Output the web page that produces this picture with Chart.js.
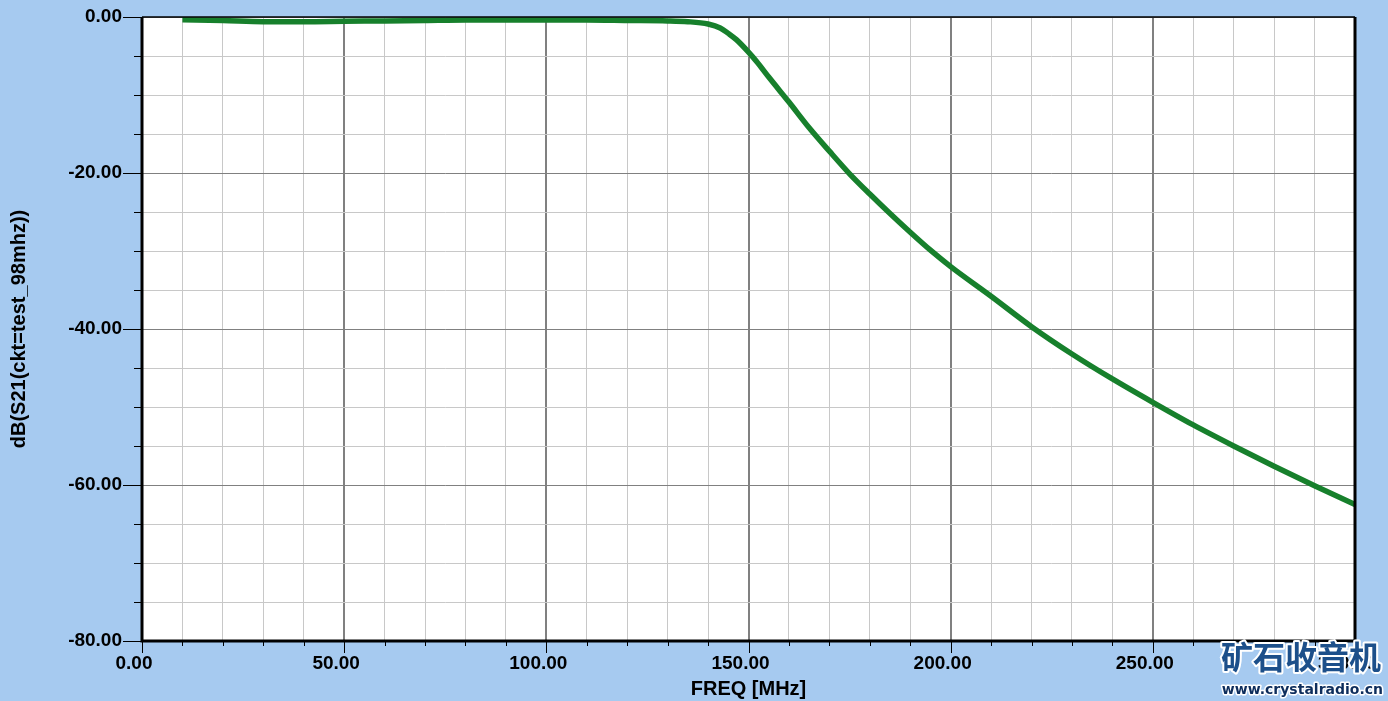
<!DOCTYPE html>
<html>
<head>
<meta charset="utf-8">
<script src="https://cdn.jsdelivr.net/npm/chart.js@4.4.0/dist/chart.umd.min.js"></script>
<style>
  html, body { margin: 0; padding: 0; background: #a6caf0; }
  #wrap { width: 1388px; height: 701px; position: relative; }
</style>
</head>
<body>
<div id="wrap"><canvas id="myChart" width="1388" height="701"></canvas></div>
<script>
// frequency in MHz, S21 in dB
const freq = [10, 20, 30, 40, 50, 60, 70, 80, 90, 100, 110, 120, 130, 135, 140, 143, 145, 147, 150, 152, 155, 160, 165, 170, 175, 180, 185, 190, 195, 200, 210, 220, 230, 240, 250, 260, 270, 280, 290, 300];
const s21 = [-0.35, -0.45, -0.6, -0.6, -0.55, -0.5, -0.45, -0.4, -0.4, -0.4, -0.4, -0.45, -0.5, -0.6, -0.9, -1.4, -2.1, -2.9, -4.5, -5.7, -7.7, -10.9, -14.2, -17.2, -20.1, -22.7, -25.2, -27.6, -29.9, -32.0, -35.8, -39.7, -43.2, -46.4, -49.4, -52.3, -55.0, -57.6, -60.1, -62.5];

const xMajor = 50, xMinor = 10;
const yMajor = 20, yMinor = 5;
const xTitle = 'FREQ [MHz]';
const yTitle = 'dB(S21(ckt=test_98mhz))';

const tickFont = { family: 'Liberation Sans, Arial', size: 19, weight: 'bold' };
const titleFont = { family: 'Liberation Sans, Arial', size: 20, weight: 'bold' };

function isMajor(v, step) {
  return Math.abs(v / step - Math.round(v / step)) < 1e-6;
}

// frame, tick marks and watermark
const framePlugin = {
  id: 'frame',
  beforeDraw(chart) {
    const c = chart.ctx;
    c.save();
    c.fillStyle = '#a6caf0';
    c.fillRect(0, 0, chart.width, chart.height);
    const a = chart.chartArea;
    c.fillStyle = '#ffffff';
    c.fillRect(a.left, a.top, a.right - a.left, a.bottom - a.top);
    c.restore();
  },
  afterDraw(chart) {
    const c = chart.ctx;
    const a = chart.chartArea;
    const xs = chart.scales.x, ys = chart.scales.y;
    c.save();
    c.strokeStyle = '#000000';
    c.lineWidth = 1;
    // y ticks
    for (let v = ys.min; v <= ys.max + 1e-9; v += yMinor) {
      const py = Math.round(ys.getPixelForValue(v)) + 0.5;
      const len = isMajor(v, yMajor) ? 19 : 8;
      c.beginPath();
      c.moveTo(a.left - len, py);
      c.lineTo(a.left, py);
      c.stroke();
    }
    // x ticks
    for (let v = xs.min; v <= xs.max + 1e-9; v += xMinor) {
      const px = Math.round(xs.getPixelForValue(v)) + 0.5;
      const len = isMajor(v, xMajor) ? 12 : 5;
      c.beginPath();
      c.moveTo(px, a.bottom);
      c.lineTo(px, a.bottom + len);
      c.stroke();
    }
    // frame
    c.lineWidth = 1.5;
    c.beginPath();
    c.moveTo(a.left, a.top);
    c.lineTo(a.right, a.top);
    c.stroke();
    c.lineWidth = 3;
    c.beginPath();
    c.moveTo(a.left, a.top);
    c.lineTo(a.left, a.bottom);
    c.lineTo(a.right, a.bottom);
    c.lineTo(a.right, a.top);
    c.stroke();

    // watermark
    c.textAlign = 'right';
    c.textBaseline = 'alphabetic';
    c.font = 'bold 32px "Noto Sans CJK SC"';
    c.lineJoin = 'round';
    c.lineWidth = 4;
    c.strokeStyle = '#ffffff';
    c.strokeText('矿石收音机', 1381, 669);
    c.fillStyle = '#1c4f8a';
    c.fillText('矿石收音机', 1381, 669);
    c.font = 'bold 14px "DejaVu Sans"';
    c.lineWidth = 3;
    c.strokeText('www.crystalradio.cn', 1383, 694);
    c.fillStyle = '#0d2d5c';
    c.fillText('www.crystalradio.cn', 1383, 694);
    c.restore();
  }
};

const ctx = document.getElementById('myChart').getContext('2d');
const myChart = new Chart(ctx, {
  type: 'line',
  data: {
    datasets: [
      {
        label: 'S21',
        data: freq.map((f, i) => ({ x: f, y: s21[i] })),
        fill: false,
        pointRadius: 0,
        borderColor: '#17802c',
        borderWidth: 5.5,
        cubicInterpolationMode: 'monotone'
      }
    ]
  },
  options: {
    responsive: false,
    animation: false,
    layout: { padding: { top: 17, right: 33, left: 0, bottom: 0 } },
    plugins: {
      legend: { display: false },
      tooltip: { enabled: false }
    },
    scales: {
      x: {
        type: 'linear',
        min: 0,
        max: 300,
        afterFit: (s) => { s.height = 60; s.paddingLeft = 0; s.paddingRight = 0; },
        border: { display: false },
        grid: {
          drawTicks: false,
          color: (c) => isMajor(c.tick.value, xMajor) ? '#808080' : '#c8c8c8',
          lineWidth: (c) => isMajor(c.tick.value, xMajor) ? 2 : 1
        },
        ticks: {
          stepSize: xMinor,
          autoSkip: false,
          maxRotation: 0,
          padding: 11,
          labelOffset: -8,
          color: '#000000',
          font: tickFont,
          callback: (v) => isMajor(v, xMajor) ? v.toFixed(2) : ''
        },
        title: {
          display: true,
          text: xTitle,
          color: '#000000',
          font: titleFont,
          padding: { top: 0, bottom: 0 }
        }
      },
      y: {
        min: -80,
        max: 0,
        afterFit: (s) => { s.width = 142; s.paddingTop = 0; s.paddingBottom = 0; },
        border: { display: false },
        grid: {
          drawTicks: false,
          color: (c) => isMajor(c.tick.value, yMajor) ? '#808080' : '#c8c8c8',
          lineWidth: 1
        },
        ticks: {
          stepSize: yMinor,
          autoSkip: false,
          padding: 20,
          color: '#000000',
          font: tickFont,
          callback: (v) => isMajor(v, yMajor) ? v.toFixed(2) : ''
        },
        title: {
          display: true,
          text: yTitle,
          color: '#000000',
          font: titleFont,
          padding: { top: 7, bottom: 0 }
        }
      }
    }
  },
  plugins: [framePlugin]
});
</script>
</body>
</html>
